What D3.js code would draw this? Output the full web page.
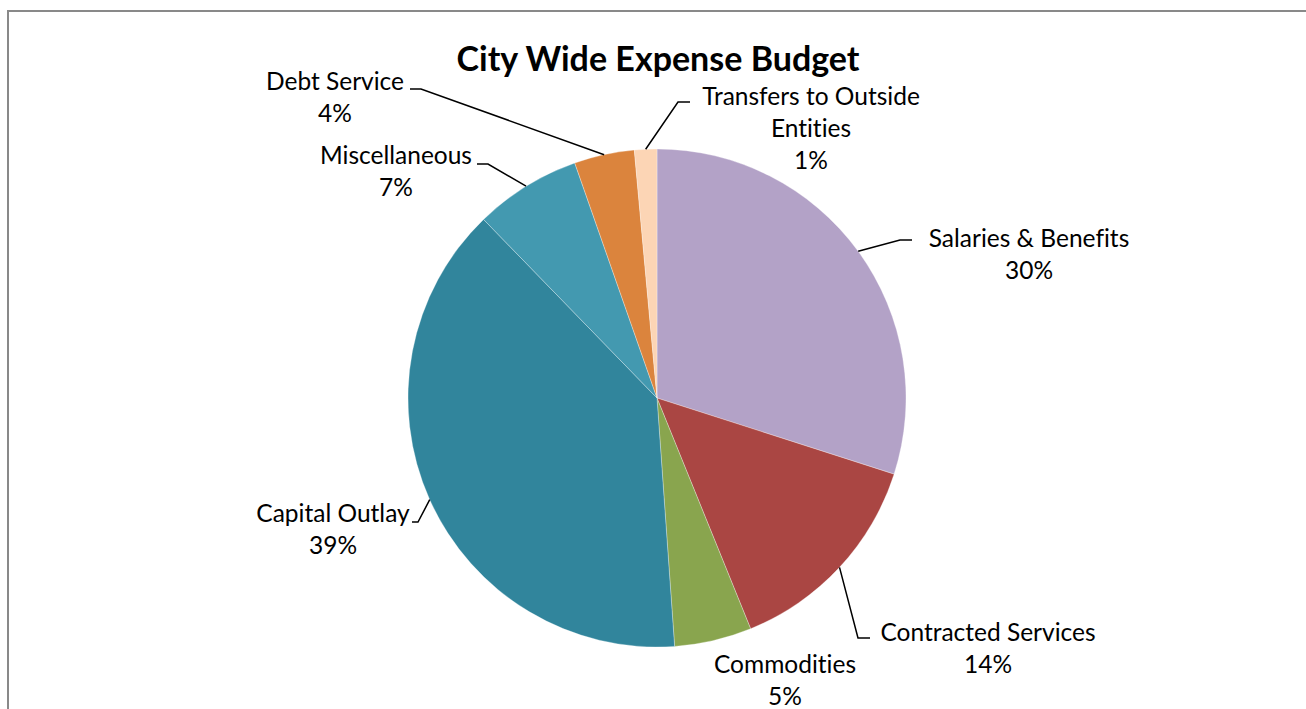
<!DOCTYPE html>
<html>
<head>
<meta charset="utf-8">
<script src="https://cdn.jsdelivr.net/npm/d3@7"></script>
<style>
  html, body { margin: 0; padding: 0; background: #fff; }
  svg { display: block; }
  text { font-family: Lato, "Open Sans", "Liberation Sans", sans-serif; fill: #000;
         font-variant-ligatures: none; font-feature-settings: "liga" 0; }
</style>
</head>
<body>
<svg id="chart" width="1306" height="709"></svg>
<script>
// Expense categories, in drawing order (clockwise from 12 o'clock)
const categories = [
  "Salaries & Benefits",
  "Contracted Services",
  "Commodities",
  "Capital Outlay",
  "Miscellaneous",
  "Debt Service",
  "Transfers to Outside Entities"
];
// Share of the city-wide expense budget (percent)
const shares = [29.9, 13.9, 5.0, 38.8, 6.9, 3.9, 1.45];
const sliceColors = ["#B3A2C7", "#AA4643", "#89A54E", "#31859C", "#4399B0", "#DB843D", "#FCD5B5"];

// Label placement: centre of the first text line, and the elbow of the leader line
const labelLayout = [
  { x: 1029, y: 237, leader: [[900, 240], [912, 240]] },
  { x: 988,  y: 631, leader: [[858, 638], [870, 638]] },
  { x: 785,  y: 663, leader: null },
  { x: 333,  y: 512, leader: [[418, 522], [412, 522]] },
  { x: 396,  y: 154, leader: [[488, 164], [477, 164]] },
  { x: 335,  y: 80,  leader: [[421, 89], [410, 89]] },
  { x: 811,  y: 95,  leader: [[678, 102], [690, 102]] }
];

const svg = d3.select("#chart");
const W = 1306, H = 709;
const cx = 657, cy = 398, R = 249;
const lineH = 32;

// chart frame (open to the right and bottom)
svg.append("path")
  .attr("d", `M8,${H} V11 H${W}`)
  .attr("fill", "none")
  .attr("stroke", "#898989")
  .attr("stroke-width", 2);

svg.append("text")
  .attr("x", 658).attr("y", 57)
  .attr("text-anchor", "middle")
  .attr("dominant-baseline", "central")
  .style("font-size", "34px")
  .style("font-weight", "bold")
  .text("City Wide Expense Budget");

const total = d3.sum(shares);
const pie = d3.pie().sort(null).value(d => d.value);
const data = categories.map((c, i) => ({ name: c, value: shares[i], color: sliceColors[i], layout: labelLayout[i] }));
const arcs = pie(data);

const arc = d3.arc().innerRadius(0).outerRadius(R);
const rimArc = d3.arc().innerRadius(R).outerRadius(R);

const g = svg.append("g").attr("transform", `translate(${cx},${cy})`);
g.selectAll("path.slice")
  .data(arcs)
  .join("path")
  .attr("class", "slice")
  .attr("d", arc)
  .attr("fill", d => d.data.color)
  .attr("stroke", "rgba(255,255,255,0.5)")
  .attr("stroke-width", 0.6);

// leader lines from the slice rim to the label
const line = d3.line();
svg.selectAll("path.leader")
  .data(arcs.filter(d => d.data.layout.leader))
  .join("path")
  .attr("class", "leader")
  .attr("d", d => {
    const [px, py] = rimArc.centroid(d);
    return line([[cx + px, cy + py], ...d.data.layout.leader]);
  })
  .attr("fill", "none")
  .attr("stroke", "#000")
  .attr("stroke-width", 1.5);

// wrap a label into lines of at most maxChars characters
function wrap(text, maxChars) {
  const words = text.split(" ");
  const out = [];
  let cur = "";
  words.forEach(w => {
    const next = cur ? cur + " " + w : w;
    if (next.length > maxChars && cur) { out.push(cur); cur = w; }
    else cur = next;
  });
  if (cur) out.push(cur);
  return out;
}

const labels = svg.selectAll("g.label")
  .data(arcs)
  .join("g")
  .attr("class", "label");

labels.each(function (d) {
  const lines = wrap(d.data.name, 20);
  lines.push(d3.format(".0f")(d.data.value / total * 100) + "%");
  const t = d3.select(this).append("text")
    .attr("text-anchor", "middle")
    .style("font-size", "24.5px");
  lines.forEach((s, i) => {
    t.append("tspan")
      .attr("x", d.data.layout.x)
      .attr("y", d.data.layout.y + i * lineH)
      .attr("dominant-baseline", "central")
      .text(s);
  });
});
</script>
</body>
</html>
